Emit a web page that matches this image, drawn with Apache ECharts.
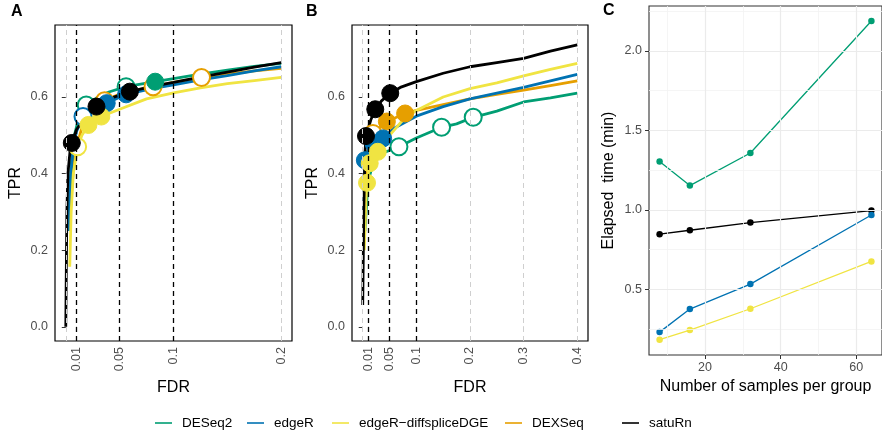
<!DOCTYPE html>
<html><head><meta charset="utf-8">
<script src="https://cdn.jsdelivr.net/npm/echarts@6/dist/echarts.min.js"></script>
<style>html,body{margin:0;padding:0;background:#fff}#c{width:882px;height:436px}</style>
</head><body><div id="c"></div>
<script>
// ---------- data ----------
const methods = ['DESeq2','edgeR','edgeR\u2212diffspliceDGE','DEXSeq','satuRn'];
const colors  = ['#009E73','#0072B2','#F0E442','#E69F00','#000000'];

// Panel A curves [FDR, TPR]
const curveA_DESeq2 = [[0.003,0.28],[0.005,0.42],[0.008,0.5],[0.012,0.545],[0.019,0.579],[0.03,0.6],[0.04,0.613],[0.056,0.627],[0.083,0.64],[0.1,0.648],[0.125,0.66],[0.15,0.67],[0.175,0.68],[0.2,0.688]];
const curveA_edgeR  = [[0.003,0.25],[0.004,0.38],[0.007,0.47],[0.01,0.51],[0.016,0.549],[0.025,0.57],[0.038,0.584],[0.056,0.607],[0.08,0.622],[0.1,0.632],[0.125,0.645],[0.15,0.656],[0.175,0.668],[0.2,0.679]];
const curveA_DGE    = [[0.0037,0.157],[0.005,0.3],[0.007,0.4],[0.011,0.47],[0.015,0.5],[0.021,0.527],[0.033,0.549],[0.05,0.568],[0.075,0.595],[0.1,0.611],[0.125,0.624],[0.15,0.635],[0.175,0.643],[0.2,0.651]];
const curveA_DEXSeq = [[0.004,0.3],[0.008,0.45],[0.015,0.52],[0.025,0.565],[0.036,0.59],[0.05,0.608],[0.065,0.618],[0.081,0.627],[0.1,0.638],[0.126,0.651],[0.15,0.66],[0.175,0.668],[0.2,0.675]];
const curveA_satuRn = [[0,0],[0.001,0.3],[0.002,0.4],[0.004,0.46],[0.0056,0.48],[0.01,0.515],[0.02,0.555],[0.0285,0.575],[0.04,0.595],[0.0595,0.614],[0.08,0.628],[0.1,0.638],[0.125,0.652],[0.15,0.665],[0.175,0.678],[0.2,0.69]];
// Panel A threshold points [FDR, TPR, filled]
const ptsA_DESeq2 = [[0.019,0.579,0],[0.056,0.627,0],[0.083,0.64,1]];
const ptsA_edgeR  = [[0.016,0.549,0],[0.038,0.584,1],[0.056,0.607,1]];
const ptsA_DGE    = [[0.011,0.47,0],[0.021,0.527,1],[0.033,0.549,1]];
const ptsA_DEXSeq = [[0.036,0.59,0],[0.081,0.627,0],[0.126,0.651,0]];
const ptsA_satuRn = [[0.0056,0.48,1],[0.0285,0.575,1],[0.0595,0.614,1]];

// Panel B curves
const curveB_DESeq2 = [[0.004,0.25],[0.01,0.38],[0.02,0.43],[0.04,0.455],[0.0675,0.47],[0.1,0.493],[0.147,0.521],[0.175,0.53],[0.206,0.547],[0.25,0.563],[0.3,0.587],[0.35,0.598],[0.4,0.61]];
const curveB_edgeR  = [[0.002,0.3],[0.004,0.435],[0.01,0.46],[0.02,0.479],[0.038,0.492],[0.06,0.52],[0.1,0.55],[0.15,0.575],[0.2,0.595],[0.25,0.61],[0.3,0.625],[0.35,0.642],[0.4,0.659]];
const curveB_DGE    = [[0.003,0.2],[0.006,0.33],[0.008,0.376],[0.013,0.427],[0.028,0.457],[0.05,0.5],[0.075,0.54],[0.1,0.565],[0.15,0.6],[0.2,0.622],[0.25,0.637],[0.3,0.655],[0.35,0.672],[0.4,0.688]];
const curveB_DEXSeq = [[0.003,0.3],[0.008,0.45],[0.019,0.505],[0.045,0.536],[0.079,0.557],[0.1,0.565],[0.15,0.58],[0.2,0.595],[0.25,0.607],[0.3,0.618],[0.35,0.63],[0.4,0.642]];
const curveB_satuRn = [[0,0.057],[0.002,0.3],[0.004,0.45],[0.0061,0.498],[0.015,0.54],[0.0234,0.568],[0.035,0.59],[0.0513,0.61],[0.07,0.625],[0.1,0.64],[0.15,0.662],[0.2,0.679],[0.25,0.69],[0.3,0.701],[0.35,0.72],[0.4,0.736]];
const ptsB_DESeq2 = [[0.0675,0.47,0],[0.147,0.521,0],[0.206,0.547,0]];
const ptsB_edgeR  = [[0.004,0.435,1],[0.02,0.479,1],[0.038,0.492,1]];
const ptsB_DGE    = [[0.008,0.376,1],[0.013,0.427,1],[0.028,0.457,1]];
const ptsB_DEXSeq = [[0.019,0.505,0],[0.045,0.536,1],[0.079,0.557,1]];
const ptsB_satuRn = [[0.0061,0.498,1],[0.0234,0.568,1],[0.0513,0.61,1]];

// Panel C
const samples = [8,16,32,64];
const timeDESeq2 = [1.304,1.153,1.358,2.189];
const timeEdgeR  = [0.231,0.376,0.533,0.968];
const timeDGE    = [0.183,0.244,0.378,0.676];
const timeSatuRn = [0.847,0.872,0.920,0.996];

const breaksA = [0,0.01,0.05,0.1,0.2];
const breaksB = [0,0.01,0.05,0.1,0.2,0.3,0.4];
const thresholds = [0.01,0.05,0.1];
const yBreaks = [0,0.2,0.4,0.6];
const cXBreaks = [20,40,60], cXMinor = [10,30,50];
const cYBreaks = [0.5,1.0,1.5,2.0], cYMinor = [0.25,0.75,1.25,1.75,2.25];

// ---------- build ----------
const FONT = 'Liberation Sans, Arial, sans-serif';
const curvesA = [curveA_DESeq2,curveA_edgeR,curveA_DGE,curveA_DEXSeq,curveA_satuRn];
const curvesB = [curveB_DESeq2,curveB_edgeR,curveB_DGE,curveB_DEXSeq,curveB_satuRn];
const ptsA = [ptsA_DESeq2,ptsA_edgeR,ptsA_DGE,ptsA_DEXSeq,ptsA_satuRn];
const ptsB = [ptsB_DESeq2,ptsB_edgeR,ptsB_DGE,ptsB_DEXSeq,ptsB_satuRn];
const order = [3,0,1,2,4];

function fdrAxis(idx, min, max, breaks){
  return {gridIndex:idx, type:'value', min:min, max:max,
    axisLine:{show:false},
    axisTick:{show:true, customValues:breaks, length:4, lineStyle:{color:'#333', width:1}},
    axisLabel:{customValues:breaks.filter(v=>v>0), rotate:90, margin:6, color:'#4d4d4d', fontSize:12.5, fontFamily:FONT,
      formatter:v=>String(+(+v).toFixed(3))},
    splitLine:{show:false},
    name:'FDR', nameLocation:'middle', nameGap:37, nameTextStyle:{color:'#000', fontSize:16, fontFamily:FONT}};
}
function tprAxis(idx){
  return {gridIndex:idx, type:'value', min:-0.037, max:0.788,
    axisLine:{show:false},
    axisTick:{show:true, customValues:yBreaks, length:4, lineStyle:{color:'#333', width:1}},
    axisLabel:{customValues:yBreaks, margin:7, color:'#4d4d4d', fontSize:12.5, fontFamily:FONT, formatter:v=>(+v).toFixed(1)},
    splitLine:{show:false},
    name:'TPR', nameLocation:'middle', nameGap:31, nameTextStyle:{color:'#000', fontSize:16, fontFamily:FONT}};
}
function vlines(breaks){
  const d = breaks.map(v=>({xAxis:v, lineStyle:{color:'#cfcfcf', type:[5,4], width:1}}));
  thresholds.forEach(v=>d.push({xAxis:v, lineStyle:{color:'#000', type:[5,4], width:1.3}}));
  return d;
}

const series = [];
[[0,breaksA],[1,breaksB]].forEach(([g,br])=>{
  series.push({type:'line', xAxisIndex:g, yAxisIndex:g, data:[], z:1, silent:true,
    markLine:{silent:true, symbol:'none', label:{show:false}, animation:false, data:vlines(br)}});
});
[[0,curvesA],[1,curvesB]].forEach(([g,curves])=>{
  order.forEach(i=>{
    series.push({name:methods[i], type:'line', xAxisIndex:g, yAxisIndex:g, data:curves[i],
      showSymbol:false, symbol:'none', z:2, lineStyle:{color:colors[i], width:2.8}, itemStyle:{color:colors[i]}});
  });
});
[[0,ptsA],[1,ptsB]].forEach(([g,pts])=>{
  order.forEach(i=>{
    series.push({name:methods[i], type:'scatter', xAxisIndex:g, yAxisIndex:g, z:3, symbolSize:17,
      itemStyle:{opacity:1},
      data:pts[i].map(p=>({value:[p[0],p[1]], itemStyle:{opacity:1, color:p[2]?colors[i]:'#ffffff', borderColor:colors[i], borderWidth:p[2]?1:2}}))});
  });
});
// Panel C gridlines
const cGrid = [];
cXMinor.forEach(v=>cGrid.push({xAxis:v, lineStyle:{color:'#f2f2f2', width:0.8, type:'solid'}}));
cYMinor.forEach(v=>cGrid.push({yAxis:v, lineStyle:{color:'#f2f2f2', width:0.8, type:'solid'}}));
cXBreaks.forEach(v=>cGrid.push({xAxis:v, lineStyle:{color:'#ebebeb', width:1.2, type:'solid'}}));
cYBreaks.forEach(v=>cGrid.push({yAxis:v, lineStyle:{color:'#ebebeb', width:1.2, type:'solid'}}));
series.push({type:'line', xAxisIndex:2, yAxisIndex:2, data:[], z:1, silent:true,
  markLine:{silent:true, symbol:'none', label:{show:false}, animation:false, data:cGrid}});
const cSeries = [[0,timeDESeq2],[4,timeSatuRn],[1,timeEdgeR],[2,timeDGE]];
cSeries.forEach(([i,vals])=>{
  series.push({name:methods[i], type:'line', xAxisIndex:2, yAxisIndex:2, z:2,
    data:samples.map((s,k)=>[s,vals[k]]), symbol:'circle', symbolSize:6.5, showSymbol:true,
    lineStyle:{color:colors[i], width:1.3}, itemStyle:{color:colors[i]}});
});

const legendX = [155,247,332,505,622];
const legends = methods.map((m,i)=>({data:[m], left:legendX[i], top:416, padding:0, icon:'rect',
  itemWidth:17, itemHeight:1.6, selectedMode:false,
  textStyle:{color:'#000', fontSize:13.5, fontFamily:FONT, padding:[0,0,0,5]}}));

const option = {
  animation:false,
  textStyle:{fontFamily:FONT},
  legend:legends,
  grid:[
    {left:55, top:25, width:237, height:316, show:true, borderColor:'#000', borderWidth:1.2, backgroundColor:'#fff'},
    {left:352, top:25, width:236, height:316, show:true, borderColor:'#000', borderWidth:1.2, backgroundColor:'#fff'},
    {left:649, top:6, width:236, height:349, show:true, borderColor:'#333', borderWidth:1.1, backgroundColor:'#fff'}
  ],
  xAxis:[
    fdrAxis(0,-0.01,0.21,breaksA),
    fdrAxis(1,-0.02,0.42,breaksB),
    {gridIndex:2, type:'value', min:5.2, max:66.8, axisLine:{show:false},
      axisTick:{show:true, customValues:cXBreaks, length:4, lineStyle:{color:'#333'}},
      axisLabel:{customValues:cXBreaks, margin:6, color:'#4d4d4d', fontSize:12.5, fontFamily:FONT},
      splitLine:{show:false},
      name:'Number of samples per group', nameLocation:'middle', nameGap:24, nameTextStyle:{color:'#000', fontSize:16, fontFamily:FONT}}
  ],
  yAxis:[
    tprAxis(0), tprAxis(1),
    {gridIndex:2, type:'value', min:0.087, max:2.283, axisLine:{show:false},
      axisTick:{show:true, customValues:cYBreaks, length:4, lineStyle:{color:'#333'}},
      axisLabel:{customValues:cYBreaks, margin:7, color:'#4d4d4d', fontSize:12.5, fontFamily:FONT, formatter:v=>(+v).toFixed(1)},
      splitLine:{show:false},
      name:'Elapsed  time (min)', nameLocation:'middle', nameGap:32, nameTextStyle:{color:'#000', fontSize:16, fontFamily:FONT}}
  ],
  graphic:[
    {type:'text', left:11, top:4, style:{text:'A', font:'bold 16px '+FONT, fill:'#000'}},
    {type:'text', left:306, top:4, style:{text:'B', font:'bold 16px '+FONT, fill:'#000'}},
    {type:'text', left:603, top:3, style:{text:'C', font:'bold 16px '+FONT, fill:'#000'}}
  ],
  series:series
};
const chart = echarts.init(document.getElementById('c'), null, {renderer:'canvas'});
chart.setOption(option);
</script></body></html>
